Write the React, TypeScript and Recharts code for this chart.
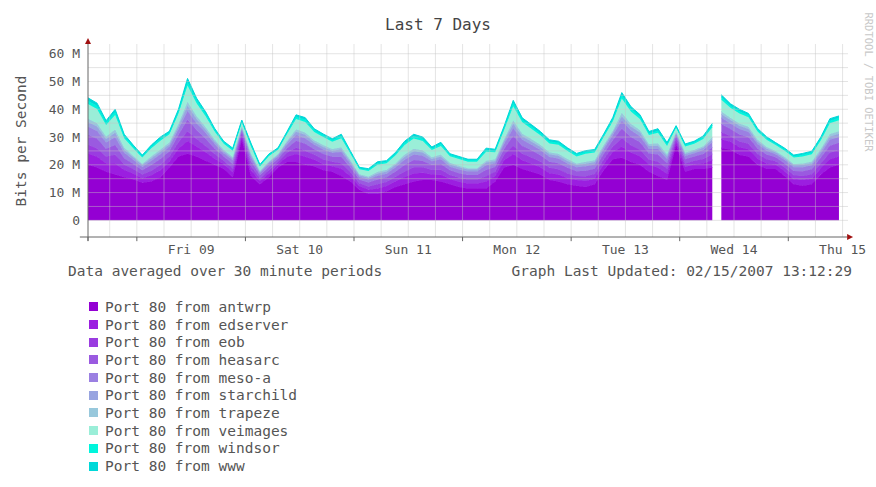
import React from 'react';
import { AreaChart, Area, XAxis, YAxis, ReferenceLine, ReferenceDot } from 'recharts';

// values in Mbit/s, one sample every 2 hours starting Thu 08 13:12
const antwrp = [
  20, 19, 17.5, 16.5, 15.5, 14.8, 13.5, 14, 15.5, 19,
  23, 24, 23, 21.5, 20, 18.5, 15.5, 29, 16, 13,
  15.5, 19, 21, 21, 20, 19.5, 18, 17.5, 16, 14,
  11, 9.5, 9.5, 10.5, 12, 13, 14, 14.5, 14.5, 14,
  13, 12, 11.5, 11.5, 11.5, 14, 19, 20, 18.5, 17.5,
  16.5, 14.5, 14, 13, 12.5, 12, 13, 18, 22, 22.5,
  21, 20, 17.5, 16, 14.5, 27, 17.5, 18.5, 18.5, 19,
  26, 25.5, 23.5, 23, 20, 18.5, 18.5, 16, 13, 12.5,
  13, 16.5, 19, 20,
];
const edserver = [
  4.1, 3.9, 3.1, 4.0, 2.6, 2.1, 1.7, 2.2, 2.5, 2.2,
  2.9, 4.6, 3.6, 3.0, 2.2, 1.7, 1.8, 1.2, 2.0, 1.2,
  1.4, 1.2, 1.9, 2.9, 2.9, 2.3, 2.2, 2.0, 2.6, 1.9,
  1.4, 1.5, 2.0, 1.9, 2.1, 2.6, 2.9, 2.6, 2.0, 2.4,
  1.9, 1.9, 1.8, 1.8, 2.5, 2.0, 2.6, 3.9, 3.1, 2.9,
  2.6, 2.5, 2.5, 2.2, 2.0, 2.2, 2.1, 2.2, 2.6, 4.0,
  3.4, 3.1, 2.5, 2.9, 2.3, 1.2, 1.7, 1.7, 2.0, 2.7,
  3.2, 2.8, 2.8, 2.6, 2.2, 2.0, 1.6, 1.7, 1.8, 2.0,
  2.0, 2.3, 3.0, 3.0,
];
const eob = [
  3.1, 3.0, 2.4, 3.1, 2.0, 1.6, 1.3, 1.7, 1.9, 1.7,
  2.2, 3.5, 2.7, 2.3, 1.7, 1.3, 1.4, 0.9, 1.6, 0.9,
  1.1, 0.9, 1.4, 2.2, 2.2, 1.8, 1.7, 1.6, 2.0, 1.4,
  1.0, 1.2, 1.5, 1.4, 1.6, 2.0, 2.2, 2.0, 1.6, 1.8,
  1.4, 1.4, 1.4, 1.4, 1.9, 1.5, 2.0, 3.0, 2.4, 2.2,
  2.0, 1.9, 1.9, 1.7, 1.5, 1.7, 1.6, 1.7, 2.0, 3.1,
  2.6, 2.3, 1.9, 2.2, 1.8, 0.9, 1.3, 1.3, 1.6, 2.1,
  2.5, 2.1, 2.1, 2.0, 1.7, 1.5, 1.2, 1.3, 1.4, 1.5,
  1.6, 1.8, 2.3, 2.3,
];
const heasarc = [
  3.6, 3.5, 2.8, 3.5, 2.3, 1.8, 1.5, 2.0, 2.2, 2.0,
  2.6, 4.1, 3.2, 2.6, 2.0, 1.5, 1.6, 1.1, 1.8, 1.1,
  1.3, 1.1, 1.7, 2.6, 2.5, 2.0, 2.0, 1.8, 2.2, 1.7,
  1.2, 1.4, 1.7, 1.7, 1.9, 2.3, 2.6, 2.3, 1.8, 2.1,
  1.7, 1.7, 1.6, 1.6, 2.2, 1.7, 2.2, 3.5, 2.8, 2.6,
  2.3, 2.2, 2.2, 2.0, 1.7, 2.0, 1.9, 2.0, 2.2, 3.5,
  3.0, 2.7, 2.2, 2.6, 2.0, 1.1, 1.5, 1.5, 1.8, 2.4,
  2.9, 2.5, 2.5, 2.3, 2.0, 1.7, 1.4, 1.5, 1.6, 1.7,
  1.8, 2.0, 2.6, 2.6,
];
const mesoA = [
  2.9, 2.8, 2.2, 2.8, 1.9, 1.5, 1.2, 1.6, 1.7, 1.6,
  2.0, 3.2, 2.5, 2.1, 1.6, 1.2, 1.3, 0.8, 1.4, 0.8,
  1.0, 0.8, 1.3, 2.0, 2.0, 1.6, 1.6, 1.4, 1.8, 1.3,
  1.0, 1.1, 1.4, 1.3, 1.5, 1.9, 2.0, 1.9, 1.4, 1.7,
  1.3, 1.3, 1.3, 1.3, 1.7, 1.4, 1.8, 2.8, 2.2, 2.0,
  1.9, 1.7, 1.7, 1.6, 1.4, 1.6, 1.5, 1.6, 1.8, 2.8,
  2.4, 2.2, 1.7, 2.0, 1.6, 0.8, 1.2, 1.2, 1.4, 1.9,
  2.3, 2.0, 2.0, 1.9, 1.6, 1.4, 1.1, 1.2, 1.3, 1.4,
  1.4, 1.6, 2.1, 2.1,
];
const starchild = [
  1.7, 1.6, 1.3, 1.6, 1.1, 0.9, 0.7, 0.9, 1.0, 0.9,
  1.2, 1.9, 1.5, 1.2, 0.9, 0.7, 0.7, 0.5, 0.8, 0.5,
  0.6, 0.5, 0.8, 1.2, 1.2, 0.9, 0.9, 0.8, 1.0, 0.8,
  0.6, 0.6, 0.8, 0.8, 0.9, 1.1, 1.2, 1.1, 0.8, 1.0,
  0.8, 0.8, 0.7, 0.7, 1.0, 0.8, 1.0, 1.6, 1.3, 1.2,
  1.1, 1.0, 1.0, 0.9, 0.8, 0.9, 0.9, 0.9, 1.0, 1.6,
  1.4, 1.3, 1.0, 1.2, 0.9, 0.5, 0.7, 0.7, 0.8, 1.1,
  1.3, 1.2, 1.2, 1.1, 0.9, 0.8, 0.7, 0.7, 0.7, 0.8,
  0.8, 0.9, 1.2, 1.2,
];
const trapeze = [
  1.2, 1.2, 0.9, 1.2, 0.8, 0.6, 0.5, 0.7, 0.7, 0.7,
  0.9, 1.4, 1.1, 0.9, 0.7, 0.5, 0.5, 0.4, 0.6, 0.4,
  0.4, 0.4, 0.6, 0.9, 0.8, 0.7, 0.7, 0.6, 0.7, 0.6,
  0.4, 0.5, 0.6, 0.6, 0.6, 0.8, 0.9, 0.8, 0.6, 0.7,
  0.6, 0.6, 0.5, 0.5, 0.7, 0.6, 0.7, 1.2, 0.9, 0.9,
  0.8, 0.7, 0.7, 0.7, 0.6, 0.7, 0.6, 0.7, 0.7, 1.2,
  1.0, 0.9, 0.7, 0.9, 0.7, 0.4, 0.5, 0.5, 0.6, 0.8,
  1.0, 0.8, 0.8, 0.8, 0.7, 0.6, 0.5, 0.5, 0.5, 0.6,
  0.6, 0.7, 0.9, 0.9,
];
const veimages = [
  5.3, 5.1, 4.1, 5.2, 3.4, 2.7, 2.2, 2.9, 3.2, 2.9,
  3.7, 5.9, 4.6, 3.9, 2.9, 2.2, 2.3, 1.5, 2.6, 1.5,
  1.9, 1.5, 2.4, 3.7, 3.8, 3.0, 2.9, 2.6, 3.3, 2.4,
  1.8, 2.0, 2.5, 2.4, 2.8, 3.4, 3.7, 3.4, 2.6, 3.1,
  2.4, 2.4, 2.3, 2.3, 3.2, 2.5, 3.3, 5.1, 4.1, 3.7,
  3.4, 3.2, 3.2, 2.9, 2.5, 2.9, 2.8, 2.9, 3.3, 5.2,
  4.4, 4.0, 3.2, 3.7, 3.0, 1.5, 2.2, 2.2, 2.6, 3.5,
  4.2, 3.6, 3.6, 3.4, 2.9, 2.5, 2.1, 2.2, 2.3, 2.5,
  2.6, 3.0, 3.9, 3.9,
];
const windsor = [
  1.2, 1.2, 0.9, 1.2, 0.8, 0.6, 0.5, 0.6, 0.7, 0.6,
  0.8, 1.4, 1.0, 0.9, 0.6, 0.5, 0.5, 0.4, 0.6, 0.4,
  0.4, 0.4, 0.5, 0.8, 0.9, 0.7, 0.6, 0.6, 0.8, 0.5,
  0.4, 0.4, 0.6, 0.5, 0.6, 0.8, 0.8, 0.8, 0.6, 0.7,
  0.5, 0.5, 0.5, 0.5, 0.7, 0.6, 0.8, 1.2, 0.9, 0.8,
  0.8, 0.7, 0.7, 0.6, 0.6, 0.6, 0.6, 0.6, 0.8, 1.2,
  1.0, 0.9, 0.7, 0.8, 0.7, 0.4, 0.5, 0.5, 0.6, 0.8,
  1.0, 0.8, 0.8, 0.8, 0.6, 0.6, 0.5, 0.5, 0.5, 0.6,
  0.6, 0.7, 0.9, 0.9,
];
const www = [
  1.0, 0.9, 0.7, 0.9, 0.6, 0.5, 0.4, 0.5, 0.6, 0.5,
  0.7, 1.1, 0.8, 0.7, 0.5, 0.4, 0.4, 0.3, 0.5, 0.3,
  0.3, 0.3, 0.4, 0.7, 0.7, 0.5, 0.5, 0.5, 0.6, 0.4,
  0.3, 0.4, 0.5, 0.4, 0.5, 0.6, 0.7, 0.6, 0.5, 0.6,
  0.4, 0.4, 0.4, 0.4, 0.6, 0.5, 0.6, 0.9, 0.7, 0.7,
  0.6, 0.6, 0.6, 0.5, 0.5, 0.5, 0.5, 0.5, 0.6, 0.9,
  0.8, 0.7, 0.6, 0.7, 0.5, 0.3, 0.4, 0.4, 0.5, 0.6,
  0.8, 0.7, 0.7, 0.6, 0.5, 0.5, 0.4, 0.4, 0.4, 0.5,
  0.5, 0.5, 0.7, 0.7,
];

const series = [
  { key: 'antwrp', values: antwrp, color: '#9400d3' },
  { key: 'edserver', values: edserver, color: '#9b1ee0' },
  { key: 'eob', values: eob, color: '#9a3ce0' },
  { key: 'heasarc', values: heasarc, color: '#9a5ae0' },
  { key: 'meso-a', values: mesoA, color: '#9b80e2' },
  { key: 'starchild', values: starchild, color: '#98a4e0' },
  { key: 'trapeze', values: trapeze, color: '#98c8dc' },
  { key: 'veimages', values: veimages, color: '#9aeed8' },
  { key: 'windsor', values: windsor, color: '#00f5dc' },
  { key: 'www', values: www, color: '#00d8d8' },
];

const dayLabels = ['Fri 09', 'Sat 10', 'Sun 11', 'Mon 12', 'Tue 13', 'Wed 14', 'Thu 15'];
const firstMidnight = 10.8; // hours after graph start
const stepHours = 2;
const gapAfter = 69; // no samples between these two points

const data: any[] = [];
antwrp.forEach((_, i) => {
  const row: any = { t: i * stepHours };
  series.forEach((s) => { row[s.key] = s.values[i]; });
  data.push(row);
  if (i === gapAfter) data.push({ t: i * stepHours + 1 });
});

const noonTicks = dayLabels.map((_, i) => firstMidnight + 12 + 24 * i);
const midnights = [0, ...dayLabels.map((_, i) => firstMidnight + 24 * i)];
const sixHours: number[] = [];
for (let t = firstMidnight - 6; t <= 168; t += 6) sixHours.push(t);
const yGrid: number[] = [];
for (let v = 0; v <= 60; v += 5) yGrid.push(v);

const mono = '"DejaVu Sans Mono", monospace';
const textColor = '#555';

const UpArrow = (p: any) => (
  <polygon points={`${p.cx - 3},${p.cy} ${p.cx + 3},${p.cy} ${p.cx},${p.cy - 6}`} fill="#a01010" />
);
const RightArrow = (p: any) => (
  <polygon points={`${p.cx},${p.cy - 3} ${p.cx},${p.cy + 3} ${p.cx + 6},${p.cy}`} fill="#a01010" />
);

export default function App() {
  return (
    <div style={{ position: 'absolute', left: 0, top: 0, width: 876, height: 487, background: '#fff', fontFamily: mono }}>
      <div style={{ position: 'absolute', left: 0, width: 876, top: 16, fontSize: 16, lineHeight: '18px', textAlign: 'center', color: '#444' }}>
        Last 7 Days
      </div>
      <div style={{ position: 'absolute', left: 21, top: 141, width: 0, height: 0 }}>
        <div style={{ position: 'absolute', transform: 'translate(-50%, -50%) rotate(-90deg)', whiteSpace: 'nowrap', fontSize: 14.5, lineHeight: '16px', color: textColor }}>
          Bits per Second
        </div>
      </div>
      <div style={{ position: 'absolute', left: 869, top: 82, width: 0, height: 0 }}>
        <div style={{ position: 'absolute', transform: 'translate(-50%, -50%) rotate(90deg)', whiteSpace: 'nowrap', fontSize: 10.5, lineHeight: '12px', color: '#c8c8c8' }}>
          RRDTOOL / TOBI OETIKER
        </div>
      </div>

      <AreaChart width={876} height={487} data={data} margin={{ top: 44, right: 28, left: 0, bottom: 220 }}>
        <XAxis
          dataKey="t"
          type="number"
          domain={[0, 168]}
          ticks={noonTicks}
          tickFormatter={(_v: number, i: number) => dayLabels[i]}
          axisLine={false}
          tickLine={false}
          tickSize={0}
          tickMargin={8}
          height={30}
          tick={{ fontFamily: mono, fontSize: 13, fill: textColor }}
        />
        <YAxis
          type="number"
          domain={[-6, 63.5]}
          ticks={[0, 10, 20, 30, 40, 50, 60]}
          tickFormatter={(v: number) => (v === 0 ? '0' : `${v} M`)}
          axisLine={false}
          tickLine={false}
          tickSize={0}
          tickMargin={8}
          width={88}
          allowDataOverflow
          tick={{ fontFamily: mono, fontSize: 13, fill: textColor }}
        />
        {series.map((s) => (
          <Area
            key={s.key}
            dataKey={s.key}
            stackId="traffic"
            type="linear"
            stroke={s.color}
            strokeWidth={1}
            fill={s.color}
            fillOpacity={1}
            isAnimationActive={false}
            connectNulls={false}
            dot={false}
            activeDot={false}
          />
        ))}
        {yGrid.map((v) => (
          <ReferenceLine key={`y${v}`} y={v} stroke="#c4c4c4" strokeOpacity={0.45} />
        ))}
        {sixHours.map((t) => (
          <ReferenceLine key={`x${t}`} x={t} stroke="#c4c4c4" strokeOpacity={0.45} />
        ))}
        {midnights.map((t) => (
          <ReferenceLine
            key={`m${t}`}
            segment={[{ x: t, y: -6 }, { x: t, y: -7.5 }]}
            stroke="#666"
            ifOverflow="visible"
          />
        ))}
        <ReferenceLine segment={[{ x: -1.8, y: -6 }, { x: 167.8, y: -6 }]} stroke="#666" ifOverflow="visible" />
        <ReferenceLine segment={[{ x: 0, y: -7.4 }, { x: 0, y: 63.5 }]} stroke="#666" ifOverflow="visible" />
        <ReferenceDot x={0} y={63.5} ifOverflow="visible" shape={UpArrow} />
        <ReferenceDot x={167.8} y={-6} ifOverflow="visible" shape={RightArrow} />
      </AreaChart>

      <div style={{ position: 'absolute', left: 68, top: 263, fontSize: 14.5, lineHeight: '16px', color: textColor, whiteSpace: 'nowrap' }}>
        Data averaged over 30 minute periods
      </div>
      <div style={{ position: 'absolute', right: 24, top: 263, fontSize: 14.5, lineHeight: '16px', color: textColor, whiteSpace: 'nowrap' }}>
        Graph Last Updated: 02/15/2007 13:12:29
      </div>
      <div style={{ position: 'absolute', left: 89, top: 298 }}>
        {series.map((s) => (
          <div key={s.key} style={{ display: 'flex', alignItems: 'center', height: 17.7 }}>
            <span style={{ display: 'inline-block', width: 9, height: 9, background: s.color, marginRight: 7 }} />
            <span style={{ fontSize: 14.5, lineHeight: '16px', color: textColor, whiteSpace: 'nowrap' }}>
              Port 80 from {s.key}
            </span>
          </div>
        ))}
      </div>
    </div>
  );
}
